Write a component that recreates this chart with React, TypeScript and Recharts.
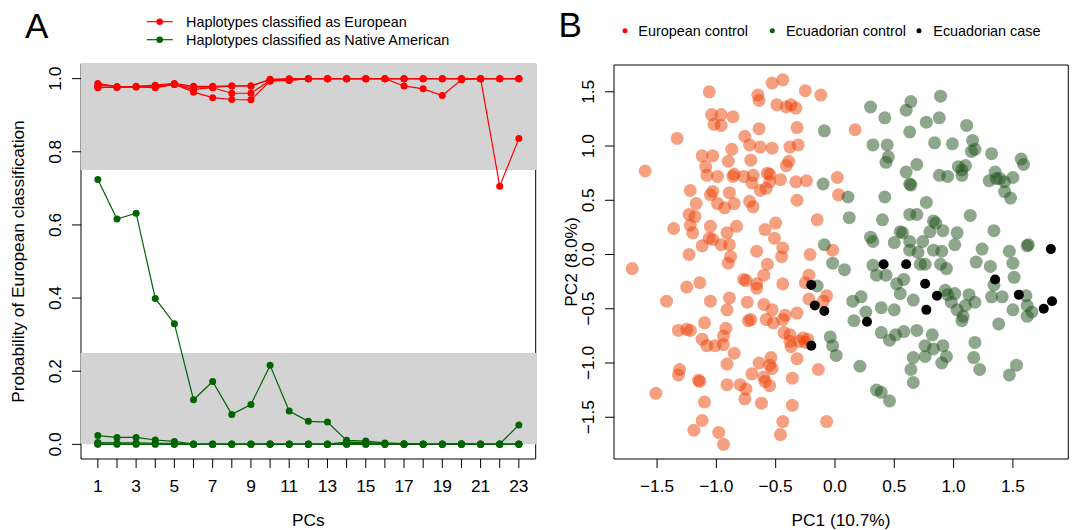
import React from "react";
import { LineChart, Line, XAxis, YAxis, ReferenceArea, ScatterChart, Scatter } from "recharts";

const FONT = "'Liberation Sans', Arial, sans-serif";

// Panel A: probability of European classification by number of PCs
const PCS = [1, 2, 3, 4, 5, 6, 7, 8, 9, 10, 11, 12, 13, 14, 15, 16, 17, 18, 19, 20, 21, 22, 23];

const EUR_RUN_1 = [0.983, 0.978, 0.979, 0.982, 0.987, 0.979, 0.979, 0.98, 0.98, 0.997, 0.998, 1, 1, 1, 1, 1, 1, 1, 1, 1, 1, 1, 1];
const EUR_RUN_2 = [0.977, 0.976, 0.977, 0.977, 0.984, 0.975, 0.975, 0.96, 0.96, 0.995, 0.996, 1, 1, 1, 1, 1, 0.98, 0.972, 0.954, 0.997, 1, 1, 1];
const EUR_RUN_3 = [0.987, 0.978, 0.978, 0.98, 0.985, 0.963, 0.948, 0.943, 0.942, 0.993, 0.995, 1, 1, 1, 1, 1, 1, 1, 1, 1, 1, 0.706, 0.836];
const EUR_RUN_4 = [0.975, 0.977, 0.978, 0.975, 0.984, 0.97, 0.976, 0.98, 0.98, 0.998, 1, 1, 1, 1, 1, 1, 1, 1, 1, 1, 1, 1, 1];

const NAT_RUN_1 = [0.724, 0.616, 0.632, 0.399, 0.33, 0.122, 0.172, 0.082, 0.109, 0.216, 0.091, 0.063, 0.061, 0.011, 0.009, 0.004, 0.002, 0.001, 0.001, 0.002, 0.001, 0.001, 0.001];
const NAT_RUN_2 = [0.024, 0.019, 0.019, 0.012, 0.008, 0.001, 0.001, 0.001, 0.001, 0.001, 0.001, 0.001, 0.001, 0.006, 0.005, 0.002, 0.001, 0, 0, 0, 0, 0, 0];
const NAT_RUN_3 = [0.005, 0.004, 0.004, 0.003, 0.003, 0, 0, 0, 0, 0, 0, 0, 0, 0.002, 0.002, 0, 0, 0, 0, 0, 0, 0, 0];
const NAT_RUN_4 = [0.001, 0.001, 0.001, 0.001, 0, 0, 0, 0, 0, 0.001, 0, 0, 0, 0, 0, 0, 0, 0, 0, 0.001, 0, 0.001, 0.053];
const NAT_RUN_5 = [0, 0, 0, 0, 0, 0, 0, 0, 0, 0, 0, 0, 0, 0, 0, 0, 0, 0, 0, 0, 0, 0, 0];

const EUR_RUNS = [EUR_RUN_1, EUR_RUN_2, EUR_RUN_3, EUR_RUN_4];
const NAT_RUNS = [NAT_RUN_1, NAT_RUN_2, NAT_RUN_3, NAT_RUN_4, NAT_RUN_5];

const PROB_TICKS = [0, 0.2, 0.4, 0.6, 0.8, 1];

// Panel B: PCA, [PC1, PC2]
const EUROPEAN_CONTROL = [
  [-1.6, 0.77], [-1.33, 1.07], [-1.06, 1.5], [-1.04, 1.29], [-0.96, 1.29], [-1.02, 1.2], [-0.96, 1.19], [-0.86, 1.27],
  [-0.53, 1.58], [-0.44, 1.61], [-0.65, 1.47], [-0.64, 1.42], [-0.25, 1.51], [-0.12, 1.47], [-0.49, 1.38], [-0.41, 1.36],
  [-0.37, 1.38], [-0.33, 1.35], [-0.64, 1.16], [-0.32, 1.17], [-0.76, 1.09], [-0.72, 1.01], [-0.63, 0.99], [-0.53, 0.98],
  [-0.38, 0.99], [-0.31, 1.01], [-0.87, 0.97], [-1.12, 0.91], [-1.03, 0.91], [-0.9, 0.86], [-0.71, 0.87], [-0.39, 0.86],
  [-0.41, 0.82], [-1.09, 0.81], [-1.08, 0.73], [-0.99, 0.72], [-0.86, 0.72], [-0.85, 0.74], [-0.77, 0.72], [-0.69, 0.73],
  [-0.57, 0.75], [-0.55, 0.74], [-0.46, 0.69], [-0.33, 0.67], [-0.24, 0.68], [-0.7, 0.66], [-0.63, 0.59], [-0.58, 0.61],
  [-0.55, 0.67], [-1.22, 0.59], [-1.03, 0.58], [-1.05, 0.55], [-0.89, 0.57], [-1.17, 0.47], [-0.99, 0.47], [-0.93, 0.43],
  [-0.85, 0.47], [-0.72, 0.49], [-0.69, 0.44], [-0.32, 0.5], [-1.23, 0.37], [-1.18, 0.35], [-1.22, 0.27], [-1.2, 0.2],
  [-1.36, 0.24], [-1.05, 0.26], [-0.83, 0.26], [-1.06, 0.15], [-1.03, 0.14], [-1.12, 0.08], [-0.96, 0.09], [-0.91, 0.2],
  [-0.89, 0.09], [-0.59, 0.23], [-0.5, 0.29], [-0.51, 0.15], [-0.44, 0.06], [-0.15, 0.32], [-1.23, 0.0], [-0.66, 0.03],
  [-0.88, -0.02], [-0.21, 0.0], [0.17, 1.15], [0.02, 0.71], [0.03, 0.55], [-0.02, 0.04], [-0.07, -0.38], [-0.1, -0.43],
  [-0.07, -1.54], [-1.71, -0.13], [-0.9, -0.08], [-0.57, -0.09], [-0.45, -0.02], [-0.6, -0.19], [-0.77, -0.23], [-0.75, -0.24],
  [-0.66, -0.27], [-0.66, -0.31], [-0.44, -0.27], [-0.22, -0.19], [-0.25, -0.26], [-1.25, -0.3], [-1.14, -0.26], [-1.42, -0.43],
  [-1.05, -0.43], [-0.89, -0.4], [-0.91, -0.51], [-0.74, -0.44], [-0.6, -0.46], [-0.53, -0.51], [-0.73, -0.61], [-0.71, -0.6],
  [-0.58, -0.6], [-0.52, -0.63], [-0.44, -0.6], [-0.42, -0.56], [-0.32, -0.54], [-0.22, -0.41], [-1.32, -0.7], [-1.25, -0.69],
  [-1.22, -0.7], [-1.1, -0.63], [-1.12, -0.78], [-1.08, -0.84], [-1.01, -0.84], [-0.94, -0.83], [-0.94, -0.75], [-0.92, -0.68],
  [-0.85, -0.91], [-0.91, -1.01], [-0.43, -0.72], [-0.38, -0.74], [-0.37, -0.85], [-0.32, -0.96], [-0.27, -0.77], [-0.23, -0.78],
  [-0.3, -0.8], [-0.25, -0.81], [-0.38, -0.8], [-0.14, -1.06], [-0.64, -1.0], [-0.54, -0.95], [-0.55, -1.02], [-0.53, -1.05],
  [-0.7, -1.1], [-0.6, -1.13], [-0.59, -1.17], [-0.55, -1.21], [-1.31, -1.06], [-1.32, -1.11], [-1.15, -1.16], [-1.14, -1.17],
  [-0.91, -1.2], [-0.8, -1.2], [-0.75, -1.24], [-0.76, -1.33], [-0.62, -1.37], [-0.36, -1.14], [-0.36, -1.39], [-1.1, -1.36],
  [-1.51, -1.28], [-1.12, -1.53], [-1.19, -1.62], [-0.98, -1.64], [-0.94, -1.75], [-0.44, -1.54], [-0.46, -1.66],
];

const ECUADORIAN_CONTROL = [
  [-0.09, 1.14], [-0.1, 0.65], [-0.09, 0.09], [0.3, 1.36], [0.42, 1.26], [0.64, 1.41], [0.6, 1.33], [0.89, 1.46],
  [0.77, 1.22], [0.88, 1.26], [0.63, 1.13], [1.11, 1.19], [0.32, 1.01], [0.44, 1.01], [0.45, 0.9], [0.43, 0.85],
  [0.84, 1.03], [0.99, 1.02], [1.16, 1.05], [1.15, 0.95], [1.18, 0.97], [1.32, 0.93], [1.57, 0.88], [1.59, 0.83],
  [0.6, 0.76], [0.69, 0.83], [0.63, 0.65], [0.64, 0.64], [0.88, 0.73], [0.95, 0.72], [1.04, 0.81], [1.07, 0.78],
  [1.1, 0.82], [1.07, 0.73], [1.35, 0.76], [1.3, 0.68], [1.36, 0.7], [1.43, 0.67], [1.5, 0.71], [1.43, 0.58],
  [1.48, 0.52], [0.42, 0.53], [0.11, 0.53], [0.77, 0.48], [0.12, 0.34], [0.4, 0.32], [0.63, 0.37], [0.69, 0.37],
  [1.14, 0.36], [0.83, 0.31], [0.85, 0.29], [0.8, 0.21], [0.91, 0.22], [1.03, 0.2], [1.34, 0.22], [0.3, 0.16],
  [0.32, 0.12], [0.55, 0.21], [0.57, 0.2], [0.5, 0.11], [0.63, 0.12], [0.74, 0.12], [1.01, 0.09], [1.24, 0.05],
  [1.62, 0.08], [1.63, 0.09], [1.47, 0.03], [0.63, 0.04], [0.7, 0.02], [0.83, 0.04], [0.9, 0.03], [-0.02, -0.08],
  [0.08, -0.14], [0.32, -0.1], [0.35, -0.19], [0.43, -0.19], [0.76, -0.09], [0.72, -0.09], [0.89, -0.09], [0.94, -0.13],
  [1.19, -0.07], [1.31, -0.11], [1.5, -0.08], [1.51, -0.21], [1.34, -0.28], [1.32, -0.39], [1.41, -0.39], [1.5, -0.51],
  [1.62, -0.47], [1.66, -0.53], [1.62, -0.57], [1.38, -0.64], [1.18, -0.81], [1.17, -0.95], [1.22, -1.06], [1.53, -1.02],
  [1.47, -1.11], [0.52, -0.27], [0.58, -0.23], [0.55, -0.36], [0.66, -0.42], [0.93, -0.33], [1.01, -0.36], [0.95, -0.37],
  [0.98, -0.44], [1.13, -0.37], [1.18, -0.44], [1.1, -0.47], [1.03, -0.51], [1.08, -0.57], [1.07, -0.61], [0.15, -0.43],
  [0.22, -0.39], [0.26, -0.53], [0.16, -0.61], [0.39, -0.49], [0.5, -0.51], [0.39, -0.72], [0.46, -0.79], [0.51, -0.74],
  [0.58, -0.71], [0.69, -0.7], [0.82, -0.74], [0.76, -0.84], [0.83, -0.87], [0.91, -0.84], [0.76, -0.94], [0.94, -0.94],
  [0.9, -1.0], [0.66, -0.95], [0.64, -1.06], [0.66, -1.18], [-0.02, -0.84], [0.01, -0.93], [0.21, -1.03], [0.35, -1.25],
  [0.39, -1.27], [0.46, -1.35], [-0.15, -0.29], [-0.04, -0.76], [1.39, 0.7], [1.61, -0.38],
];

const ECUADORIAN_CASE = [
  [1.82, 0.05], [0.41, -0.09], [0.6, -0.09], [0.76, -0.27], [0.86, -0.38], [0.77, -0.51], [1.35, -0.23], [1.55, -0.37],
  [1.76, -0.5], [1.83, -0.43], [0.27, -0.62], [-0.09, -0.52], [-0.2, -0.28], [-0.17, -0.47], [-0.2, -0.84],
];

const PC_TICKS = [-1.5, -1, -0.5, 0, 0.5, 1, 1.5];

const toPoints = (list: number[][]) => list.map(([x, y]) => ({ x, y }));

const fmt = (v: number) => (v < 0 ? "\u2212" + Math.abs(v).toFixed(1) : v.toFixed(1));

const PcTick = ({ x, y, payload }: any) =>
  payload.value % 2 === 1 ? (
    <text x={x} y={y + 21.5} textAnchor="middle" fontSize={17.3} fontFamily={FONT} fill="#000">
      {payload.value}
    </text>
  ) : (
    <g />
  );

const NumTick = ({ x, y, payload }: any) => (
  <text x={x} y={y + 21.5} textAnchor="middle" fontSize={17.3} fontFamily={FONT} fill="#000">
    {fmt(payload.value)}
  </text>
);

const SideTick = ({ x, y, payload }: any) => (
  <text
    x={x - 9}
    y={y}
    transform={`rotate(-90, ${x - 9}, ${y})`}
    textAnchor="middle"
    fontSize={17.3}
    fontFamily={FONT}
    fill="#000"
  >
    {fmt(payload.value)}
  </text>
);

const dotShape = (fill: string, r: number, opacity: number) => (props: any) =>
  <circle cx={props.cx} cy={props.cy} r={r} fill={fill} fillOpacity={opacity} stroke="none" />;

export default function App() {
  const rows = PCS.map((pc, i) => {
    const row: any = { pc };
    EUR_RUNS.forEach((run, k) => (row["eur" + k] = run[i]));
    NAT_RUNS.forEach((run, k) => (row["nat" + k] = run[i]));
    return row;
  });

  return (
    <div style={{ position: "absolute", left: 0, top: 0, width: 1072, height: 530, background: "#fff" }}>
      <div style={{ position: "absolute", left: 0, top: 0 }}>
        <LineChart width={560} height={530} data={rows} margin={{ top: 64, right: 24.3, bottom: 41, left: 21 }}>
          <XAxis
            type="number"
            dataKey="pc"
            domain={[0.12, 23.88]}
            ticks={PCS}
            interval={0}
            allowDataOverflow
            axisLine={false}
            tickSize={9}
            stroke="#000"
            height={30}
            tick={<PcTick />}
          />
          <YAxis
            type="number"
            domain={[-0.04, 1.04]}
            ticks={PROB_TICKS}
            interval={0}
            allowDataOverflow
            axisLine={false}
            tickSize={9}
            stroke="#000"
            width={60}
            tick={<SideTick />}
          />
          <ReferenceArea x1={0.12} x2={23.88} y1={-0.04} y2={1.04} fill="none" stroke="#000" ifOverflow="visible" />
          <ReferenceArea x1={0.1} x2={23.9} y1={0.75} y2={1.043} fill="#D3D3D3" fillOpacity={1} stroke="none" ifOverflow="visible" />
          <ReferenceArea x1={0.1} x2={23.9} y1={0} y2={0.25} fill="#D3D3D3" fillOpacity={1} stroke="none" ifOverflow="visible" />
          {EUR_RUNS.map((_, k) => (
            <Line
              key={"eur" + k}
              dataKey={"eur" + k}
              type="linear"
              stroke="#FF0000"
              strokeWidth={1.2}
              dot={{ r: 3.5, fill: "#FF0000", stroke: "none" }}
              activeDot={false}
              isAnimationActive={false}
            />
          ))}
          {NAT_RUNS.map((_, k) => (
            <Line
              key={"nat" + k}
              dataKey={"nat" + k}
              type="linear"
              stroke="#006400"
              strokeWidth={1.2}
              dot={{ r: 3.5, fill: "#006400", stroke: "none" }}
              activeDot={false}
              isAnimationActive={false}
            />
          ))}
        </LineChart>
      </div>

      <div style={{ position: "absolute", left: 540, top: 0 }}>
        <ScatterChart width={532} height={530} margin={{ top: 65, right: 3.7, bottom: 41, left: 14 }}>
          <XAxis
            type="number"
            dataKey="x"
            domain={[-1.863, 1.967]}
            ticks={PC_TICKS}
            interval={0}
            allowDataOverflow
            axisLine={false}
            tickSize={9}
            stroke="#000"
            height={30}
            tick={<NumTick />}
          />
          <YAxis
            type="number"
            dataKey="y"
            domain={[-1.885, 1.747]}
            ticks={PC_TICKS}
            interval={0}
            allowDataOverflow
            axisLine={false}
            tickSize={9}
            stroke="#000"
            width={60}
            tick={<SideTick />}
          />
          <ReferenceArea x1={-1.863} x2={1.967} y1={-1.885} y2={1.747} fill="none" stroke="#000" ifOverflow="visible" />
          <Scatter data={toPoints(EUROPEAN_CONTROL)} shape={dotShape("#ED4105", 6.5, 0.5)} isAnimationActive={false} />
          <Scatter data={toPoints(ECUADORIAN_CONTROL)} shape={dotShape("#1E5019", 6.5, 0.5)} isAnimationActive={false} />
          <Scatter data={toPoints(ECUADORIAN_CASE)} shape={dotShape("#000000", 5, 1)} isAnimationActive={false} />
        </ScatterChart>
      </div>

      <svg width={1072} height={530} style={{ position: "absolute", left: 0, top: 0, pointerEvents: "none" }} fontFamily={FONT}>
        <text x={25} y={37.7} fontSize={35} fill="#000">A</text>
        <line x1={146.7} x2={172.7} y1={21.7} y2={21.7} stroke="#FF0000" strokeWidth={1.2} />
        <circle cx={159.7} cy={21.7} r={3.3} fill="#FF0000" />
        <text x={186} y={27} fontSize={14.4} fill="#000">Haplotypes classified as European</text>
        <line x1={146.7} x2={172.7} y1={39.7} y2={39.7} stroke="#006400" strokeWidth={1.2} />
        <circle cx={159.7} cy={39.7} r={3.3} fill="#006400" />
        <text x={186} y={45} fontSize={14.4} fill="#000">Haplotypes classified as Native American</text>
        <text x={308.4} y={526} fontSize={17.3} textAnchor="middle" fill="#000">PCs</text>
        <text x={24} y={261.5} fontSize={17.3} textAnchor="middle" transform="rotate(-90, 24, 261.5)" fill="#000">
          Probability of European classification
        </text>

        <text x={558.5} y={37} fontSize={35} fill="#000">B</text>
        <circle cx={625} cy={30.7} r={2.5} fill="#FF0000" />
        <text x={638.3} y={36} fontSize={14.4} fill="#000">European control</text>
        <circle cx={772.3} cy={30.7} r={2.5} fill="#006400" />
        <text x={786} y={36} fontSize={14.4} fill="#000">Ecuadorian control</text>
        <circle cx={919} cy={30.7} r={2.5} fill="#000" />
        <text x={933.3} y={36} fontSize={14.4} fill="#000">Ecuadorian case</text>
        <text x={841} y={526} fontSize={17.3} textAnchor="middle" fill="#000">PC1 (10.7%)</text>
        <text x={577} y={262} fontSize={17.3} textAnchor="middle" transform="rotate(-90, 577, 262)" fill="#000">
          PC2 (8.0%)
        </text>
      </svg>
    </div>
  );
}
